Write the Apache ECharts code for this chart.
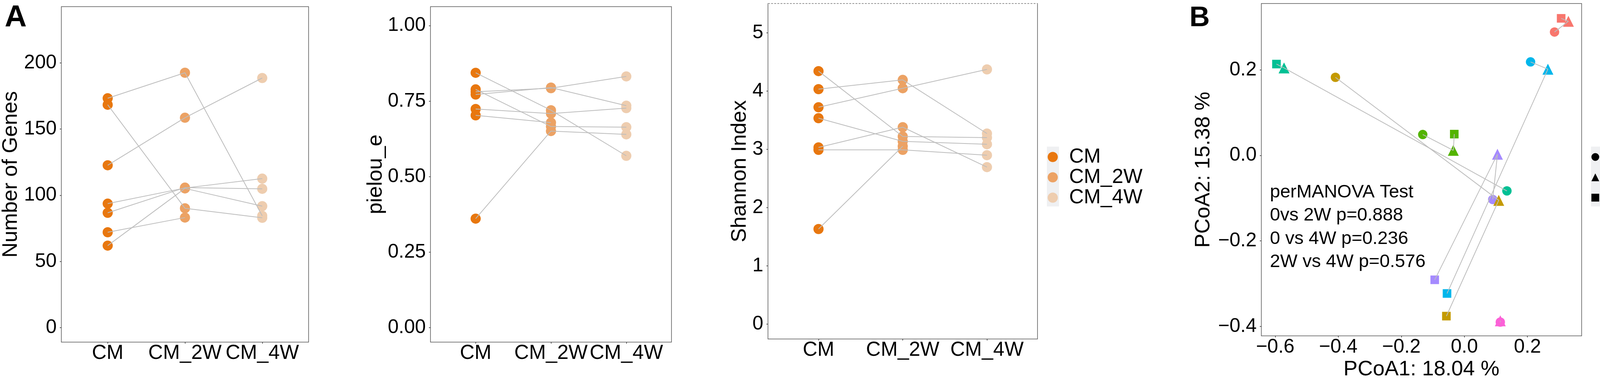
<!DOCTYPE html>
<html>
<head>
<meta charset="utf-8">
<script src="https://cdn.jsdelivr.net/npm/echarts@6.0.0/dist/echarts.min.js"></script>
<style>
  html, body { margin: 0; padding: 0; background: #fff; overflow: hidden; }
  #chart { width: 4328px; height: 977px; }
</style>
</head>
<body>
<div id="chart"></div>
<script>
var FONT = '"Liberation Sans", Arial, Helvetica, sans-serif';

// groups (x categories of panel A, shapes of panel B)
var groups = ['CM', 'CM_2W', 'CM_4W'];
var groupColors = ['#E8770F', '#ECA264', '#EECDAF'];
var groupShapes = ['circle', 'triangle', 'rect'];

// panel A, one entry per subject (7 subjects), null = no sample
var genesCM = [173.3, 168.4, 122.7, 93.7, 86.8, 62.0, 72.1];
var genes2W = [192.6, 90.2, 158.6, 105.5, 105.8, 105.2, 83.2];
var genes4W = [84.5, 83.0, 188.6, 112.6, 104.9, 91.8, null];

var pielouCM = [0.844, 0.789, 0.781, 0.772, 0.724, 0.703, 0.361];
var pielou2W = [0.720, 0.666, 0.793, 0.795, 0.709, 0.679, 0.651];
var pielou4W = [0.569, 0.664, 0.832, 0.735, 0.727, null, 0.640];

var shannonCM = [4.344, 4.034, 3.724, 3.536, 3.034, 2.992, 1.632];
var shannon2W = [3.222, 4.193, 4.050, 3.138, 3.381, 2.992, 3.054];
var shannon4W = [3.201, 3.272, 4.373, 3.088, 2.695, 2.900, null];

// tick labels
var genesTicks = [0, 50, 100, 150, 200];
var pielouTicks = [0, 0.25, 0.5, 0.75, 1];
var shannonTicks = [0, 1, 2, 3, 4, 5];
var pcoa1Ticks = [-0.6, -0.4, -0.2, 0, 0.2];
var pcoa2Ticks = [-0.4, -0.2, 0, 0.2];

// panel B, subjects: red, gold, green, teal, blue, purple, pink
var subjectColors = ['#F8766D', '#C49A00', '#53B400', '#00C094', '#00B6EB', '#A58AFF', '#FB61D7'];
var pc1CM = [0.286, -0.409, -0.132, 0.135, 0.210, 0.090, 0.114];
var pc2CM = [0.289, 0.183, 0.049, -0.083, 0.219, -0.103, -0.390];
var pc1W2 = [0.330, 0.109, -0.035, -0.572, 0.265, 0.105, 0.114];
var pc2W2 = [0.314, -0.105, 0.012, 0.205, 0.202, 0.003, -0.387];
var pc1W4 = [0.307, -0.057, -0.032, -0.596, -0.055, -0.094, null];
var pc2W4 = [0.321, -0.376, 0.050, 0.214, -0.323, -0.291, null];

var statsText = ['perMANOVA Test', '0vs 2W p=0.888', '0 vs 4W p=0.236', '2W vs 4W p=0.576'];

var chart = echarts.init(document.getElementById('chart'));

function gridBox(left, top, width, height) {
    return { left: left, top: top, width: width, height: height, show: true,
             borderColor: '#555', borderWidth: 1.5, backgroundColor: '#fff' };
}

var tickStyle = { color: '#333', width: 1.5 };

function groupAxis(gi) {
    return {
        type: 'value', gridIndex: gi, min: 0.4, max: 3.6,
        splitLine: { show: false }, axisLine: { show: false, onZero: false },
        axisTick: { show: true, customValues: [1, 2, 3], length: 4, lineStyle: tickStyle },
        axisLabel: { customValues: [1, 2, 3], fontSize: 52, color: '#000', margin: 3, fontFamily: FONT,
                     formatter: function (v) { return groups[Math.round(v) - 1]; } }
    };
}

function minusFmt(digits) {
    return function (v) { return (v < 0 ? '\u2212' : '') + Math.abs(v).toFixed(digits); };
}

function valueAxis(gi, min, max, ticks, fmt, name, gap) {
    return {
        type: 'value', gridIndex: gi, min: min, max: max,
        splitLine: { show: false }, axisLine: { show: false, onZero: false },
        axisTick: { show: true, customValues: ticks, length: 4, lineStyle: tickStyle },
        axisLabel: { customValues: ticks, fontSize: 50, color: '#000', margin: 12, fontFamily: FONT, formatter: fmt },
        name: name, nameLocation: 'middle', nameGap: gap,
        nameTextStyle: { fontSize: 54, color: '#000', fontFamily: FONT }
    };
}

var series = [];

function addPanelA(gi, cols) {
    // points per group
    cols.forEach(function (vals, k) {
        series.push({
            name: groups[k], type: 'scatter', xAxisIndex: gi, yAxisIndex: gi,
            symbol: 'circle', symbolSize: 26, z: 2,
            itemStyle: { color: groupColors[k], opacity: 1 },
            data: vals.filter(function (v) { return v != null; }).map(function (v) { return [k + 1, v]; })
        });
    });
    // paired lines per subject
    for (var i = 0; i < cols[0].length; i++) {
        var pts = [];
        cols.forEach(function (vals, k) { if (vals[i] != null) pts.push([k + 1, vals[i]]); });
        series.push({
            type: 'line', xAxisIndex: gi, yAxisIndex: gi, symbol: 'none', silent: true, z: 3,
            lineStyle: { color: '#BDBDBD', width: 2 }, data: pts
        });
    }
}

addPanelA(0, [genesCM, genes2W, genes4W]);
addPanelA(1, [pielouCM, pielou2W, pielou4W]);
addPanelA(2, [shannonCM, shannon2W, shannon4W]);

// panel B
var pcX = [pc1CM, pc1W2, pc1W4];
var pcY = [pc2CM, pc2W2, pc2W4];
var pcSizes = [24, 28, 22];
for (var k = 0; k < 3; k++) {
    var d = [];
    for (var i = 0; i < pcX[k].length; i++) {
        if (pcX[k][i] != null) d.push([pcX[k][i], pcY[k][i], i]);
    }
    series.push({
        name: groups[k], type: 'scatter', xAxisIndex: 3, yAxisIndex: 3,
        symbol: groupShapes[k], symbolSize: pcSizes[k], z: 2,
        itemStyle: { opacity: 1, color: function (p) { return subjectColors[p.data[2]]; } },
        data: d
    });
}
for (var i = 0; i < pc1CM.length; i++) {
    var pts = [];
    for (var k = 0; k < 3; k++) {
        if (pcX[k][i] != null) pts.push([pcX[k][i], pcY[k][i]]);
    }
    series.push({
        type: 'line', xAxisIndex: 3, yAxisIndex: 3, symbol: 'none', silent: true, z: 3,
        lineStyle: { color: '#BDBDBD', width: 2 }, data: pts
    });
}

var option = {
    animation: false,
    backgroundColor: '#fff',
    textStyle: { fontFamily: FONT },
    grid: [
        gridBox(156, 17, 634, 858),
        gridBox(1102, 17, 617, 858),
        gridBox(1966, 9, 690, 858),
        gridBox(3229, 9, 820, 858)
    ],
    xAxis: [
        groupAxis(0),
        groupAxis(1),
        groupAxis(2),
        {
            type: 'value', gridIndex: 3, min: -0.644, max: 0.372,
            splitLine: { show: false }, axisLine: { show: false, onZero: false },
            axisTick: { show: true, customValues: pcoa1Ticks, length: 4, lineStyle: tickStyle },
            axisLabel: { customValues: pcoa1Ticks, fontSize: 50, color: '#000', margin: 4, fontFamily: FONT, formatter: minusFmt(1) },
            name: 'PCoA1: 18.04 %', nameLocation: 'middle', nameGap: 53,
            nameTextStyle: { fontSize: 54, color: '#000', fontFamily: FONT }
        }
    ],
    yAxis: [
        valueAxis(0, -10.9, 242.5, genesTicks, function (v) { return String(v); }, 'Number of Genes', 102),
        valueAxis(1, -0.048, 1.063, pielouTicks, function (v) { return v.toFixed(2); }, 'pielou_e', 104),
        valueAxis(2, -0.257, 5.505, shannonTicks, function (v) { return String(v); }, 'Shannon Index', 45),
        valueAxis(3, -0.4223, 0.3557, pcoa2Ticks, minusFmt(1), 'PCoA2: 15.38 %', 121)
    ],
    legend: [
        {
            orient: 'vertical', left: 2682, top: 375.5, padding: 0,
            itemWidth: 26, itemHeight: 26, itemGap: 0, selectedMode: false,
            textStyle: { fontSize: 52, lineHeight: 51, color: '#000', fontFamily: FONT, padding: [0, 0, 0, 24] },
            data: groups.map(function (g, k) { return { name: g, icon: 'circle', itemStyle: { color: groupColors[k] } }; })
        },
        {
            orient: 'vertical', left: 4074, top: 375.5, padding: 0,
            itemWidth: 20, itemHeight: 20, itemGap: 0, selectedMode: false,
            textStyle: { fontSize: 52, lineHeight: 51, color: '#000', fontFamily: FONT, padding: [0, 0, 0, 24] },
            data: groups.map(function (g, k) { return { name: g, icon: groupShapes[k], itemStyle: { color: '#000' } }; })
        }
    ],
    graphic: [
        { type: 'rect', shape: { x: 2680, y: 375, width: 31, height: 153 }, style: { fill: '#EFF0F2' }, z: -1 },
        { type: 'rect', shape: { x: 4073, y: 375, width: 23, height: 153 }, style: { fill: '#EFF0F2' }, z: -1 },
        // dashed top edge of the Shannon panel, as in the source figure
        { type: 'line', shape: { x1: 1966, y1: 9, x2: 2656, y2: 9 }, style: { stroke: '#fff', lineWidth: 3 }, z: 100 },
        { type: 'line', shape: { x1: 1966, y1: 9, x2: 2656, y2: 9 }, style: { stroke: '#777', lineWidth: 1.5, lineDash: [5, 3] }, z: 101 },
        { type: 'text', x: 12, y: 46, style: { text: 'A', fontSize: 78, fontWeight: 'bold', fontFamily: FONT, fill: '#000', verticalAlign: 'middle' } },
        { type: 'text', x: 3045, y: 47, style: { text: 'B', fontSize: 72, fontWeight: 'bold', fontFamily: FONT, fill: '#000', verticalAlign: 'middle' } },
        { type: 'text', x: 3251, y: 581, z: 10, style: { text: statsText.join('\n'), fontSize: 47, lineHeight: 59.5, fontFamily: FONT, fill: '#000', verticalAlign: 'middle' } }
    ],
    series: series
};

chart.setOption(option);
</script>
</body>
</html>
